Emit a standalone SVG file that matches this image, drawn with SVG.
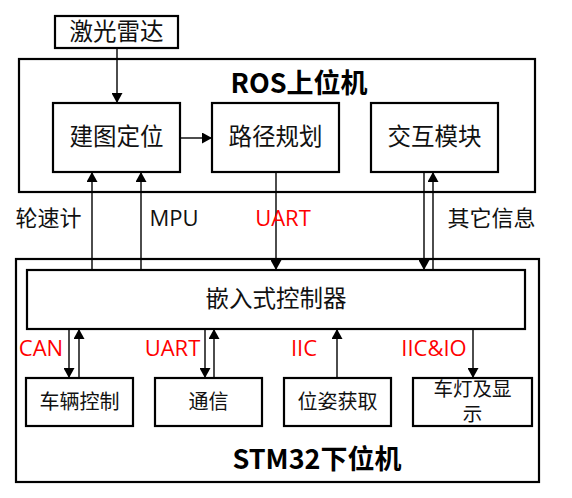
<svg xmlns="http://www.w3.org/2000/svg" width="572" height="498" viewBox="0 0 572 498">
<defs>
<marker id="ah" markerUnits="userSpaceOnUse" markerWidth="10" markerHeight="11" viewBox="0 0 10 11" refX="10" refY="5.5" orient="auto">
<path d="M0,0 L10,5.5 L0,11 Z" fill="#000"/>
</marker>
<style>
.box{fill:#fff;stroke:#000;stroke-width:2.2}
.frame{fill:none;stroke:#000;stroke-width:2.2}
.t{font-family:"Noto Sans CJK SC","Microsoft YaHei",sans-serif;fill:#111;text-anchor:middle}
.n{font-size:23.5px}
.s{font-size:20px}
.s2{font-size:19.5px}
.lbl{font-size:22px;fill:#111}
.lat{font-family:"Open Sans","Noto Sans CJK SC",sans-serif}
.red{fill:#ff0000}
.title{font-size:27px;font-weight:bold;fill:#000}
.ca{stroke:#000;stroke-width:1.4;fill:none;marker-end:url(#ah)}
</style>
</defs>
<rect width="572" height="498" fill="#fff"/>
<g id="ros">
<rect class="frame" x="19" y="59" width="516" height="133"/>
<text class="t title" x="299" y="93">ROS上位机</text>
</g>
<g id="stm32">
<rect class="frame" x="16" y="259" width="523" height="223"/>
<text class="t title" x="317" y="469">STM32下位机</text>
</g>
<g id="lidar">
<rect class="box" x="55" y="16" width="123" height="32"/>
<text class="t n" x="116.5" y="40">激光雷达</text>
</g>
<g id="mapping">
<rect class="box" x="53" y="103" width="127" height="69"/>
<text class="t n" x="116.5" y="145">建图定位</text>
</g>
<g id="planning">
<rect class="box" x="212" y="103" width="127" height="69"/>
<text class="t n" x="275.5" y="145">路径规划</text>
</g>
<g id="interaction">
<rect class="box" x="371" y="103" width="127" height="69"/>
<text class="t n" x="434.5" y="145">交互模块</text>
</g>
<g id="controller">
<rect class="box" x="27" y="270" width="498" height="59"/>
<text class="t n" x="276" y="307">嵌入式控制器</text>
</g>
<g id="vehicle">
<rect class="box" x="26" y="378" width="107" height="48"/>
<text class="t s" x="79.5" y="409">车辆控制</text>
</g>
<g id="comm">
<rect class="box" x="155" y="378" width="107" height="48"/>
<text class="t s" x="208.5" y="409">通信</text>
</g>
<g id="pose">
<rect class="box" x="284" y="378" width="107" height="48"/>
<text class="t s" x="337.5" y="409">位姿获取</text>
</g>
<g id="lights">
<rect class="box" x="413" y="378" width="119" height="48"/>
<text class="t s2" x="472.5" y="396">车灯及显<tspan x="472.5" y="421">示</tspan></text>
</g>
<g id="connectors">
<line class="ca" x1="117" y1="48" x2="117" y2="103"/>
<line class="ca" x1="180" y1="138" x2="212" y2="138"/>
<line class="ca" x1="92" y1="270" x2="92" y2="172"/>
<line class="ca" x1="141" y1="270" x2="141" y2="172"/>
<line class="ca" x1="276" y1="172" x2="276" y2="270"/>
<line class="ca" x1="424" y1="172" x2="424" y2="270"/>
<line class="ca" x1="433" y1="270" x2="433" y2="172"/>
<line class="ca" x1="69" y1="329" x2="69" y2="378"/>
<line class="ca" x1="79" y1="378" x2="79" y2="329"/>
<line class="ca" x1="205" y1="329" x2="205" y2="378"/>
<line class="ca" x1="214" y1="378" x2="214" y2="329"/>
<line class="ca" x1="337" y1="378" x2="337" y2="329"/>
<line class="ca" x1="473" y1="329" x2="473" y2="378"/>
</g>
<g id="labels">
<text class="t lbl" x="48.5" y="226">轮速计</text>
<text class="t lbl lat" x="174" y="226">MPU</text>
<text class="t lbl lat red" x="283" y="226">UART</text>
<text class="t lbl" x="491.5" y="226">其它信息</text>
<text class="t lbl lat red" x="41" y="356">CAN</text>
<text class="t lbl lat red" x="172.5" y="356">UART</text>
<text class="t lbl lat red" x="304" y="356">IIC</text>
<text class="t lbl lat red" x="434" y="356">IIC&amp;IO</text>
</g>
</svg>
